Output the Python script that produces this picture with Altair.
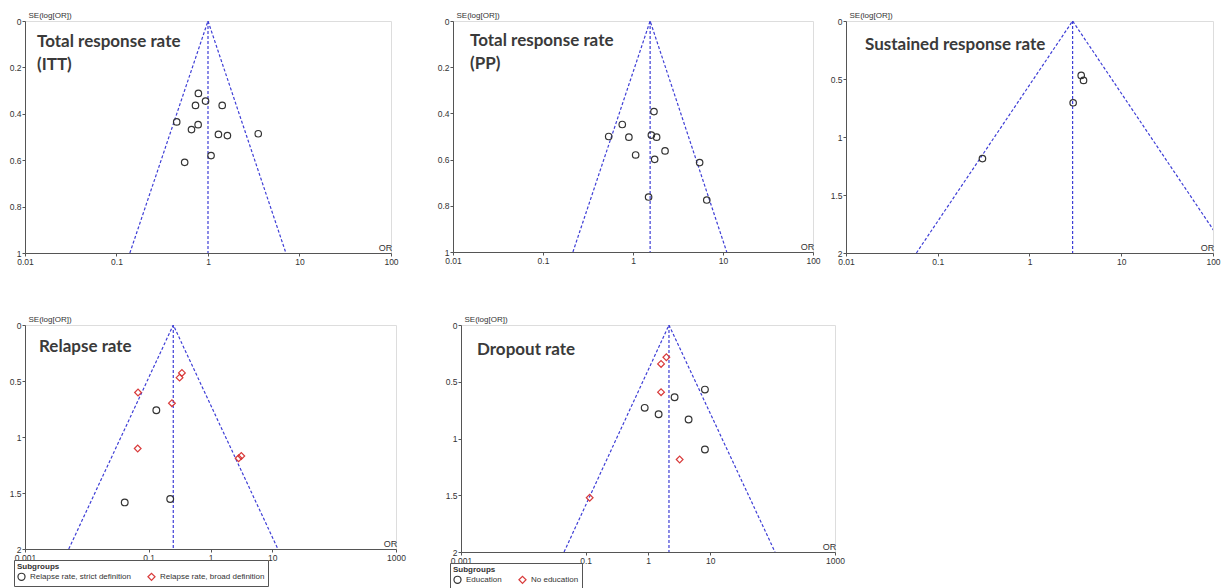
import altair as alt
import pandas as pd

# ---------------- data ----------------
# Total response rate (ITT)
itt_or = [0.785, 0.94, 0.73, 1.43, 0.455, 0.78, 0.66, 1.30, 1.63, 3.54, 1.08, 0.556]
itt_se = [0.312, 0.345, 0.364, 0.364, 0.435, 0.447, 0.468, 0.489, 0.494, 0.486, 0.580, 0.609]

# Total response rate (PP)
pp_or = [1.71, 0.76, 0.537, 0.90, 1.60, 1.83, 1.07, 2.27, 1.74, 5.5, 1.49, 6.6]
pp_se = [0.392, 0.448, 0.500, 0.503, 0.494, 0.503, 0.580, 0.5625, 0.599, 0.613, 0.762, 0.775]

# Sustained response rate
sus_or = [3.66, 3.88, 2.99, 0.307]
sus_se = [0.469, 0.512, 0.705, 1.186]

# Relapse rate
rel_strict_or = [0.133, 0.041, 0.223]
rel_strict_se = [0.761, 1.584, 1.554]
rel_broad_or = [0.345, 0.316, 0.0673, 0.238, 0.0665, 2.85, 3.15]
rel_broad_se = [0.428, 0.470, 0.603, 0.698, 1.103, 1.19, 1.17]

# Dropout rate
drop_edu_or = [8.19, 2.67, 0.885, 1.48, 4.48, 8.19]
drop_edu_se = [0.569, 0.636, 0.730, 0.786, 0.833, 1.097]
drop_noedu_or = [1.97, 1.62, 1.62, 3.22, 0.116]
drop_noedu_se = [0.284, 0.343, 0.592, 1.185, 1.522]

# funnel: pooled OR, lower / upper OR at the bottom of the funnel, max SE
funnel_itt = [1.0, 0.14, 7.1, 1.0]
funnel_pp = [1.55, 0.215, 11.0, 1.0]
funnel_sus = [2.95, 0.0585, 149.0, 2.0]
funnel_rel = [0.25, 0.0051, 12.3, 2.0]
funnel_drop = [2.17, 0.045, 109.0, 2.0]

ticks_a = [0.01, 0.1, 1, 10, 100]
ticks_b = [0.001, 0.1, 1, 10, 1000]
se_ticks_1 = [0, 0.2, 0.4, 0.6, 0.8, 1]
se_ticks_2 = [0, 0.5, 1, 1.5, 2]

rel_groups = ["Relapse rate, strict definition", "Relapse rate, broad definition"]
drop_groups = ["Education", "No education"]

# ---------------- styling ----------------
BLUE = "#3e3ed6"
DARK = "#333333"
RED = "#d93b3b"
AXC = "#555555"
FONT = "Liberation Sans"
LABFONT = "Lato"


def funnel_df(f):
    pooled, lo, hi, semax = f
    return pd.DataFrame({
        "OR": [lo, pooled, hi, pooled, pooled],
        "SE": [semax, 0, semax, 0, semax],
        "seg": ["edge", "edge", "edge", "mid", "mid"],
        "ord": [0, 1, 2, 0, 1],
    })


def panel(pts, f, xdom, xticks, yticks, w, h, label, lx, ly,
          groups=None, legend=None):
    semax = f[3]
    xaxis = alt.Axis(values=xticks, format="~g", title="OR", titleX=w - 6, titleY=-1,
                     titleAlign="center", titleBaseline="bottom", titleFontWeight="normal",
                     titleFontSize=9, titleFont=FONT, titleColor=DARK,
                     labelFont=FONT, labelFontSize=8.5, labelColor=DARK, labelFlush=False,
                     labelOverlap=False, tickSize=3, tickColor=AXC, domainColor=AXC,
                     grid=False, labelPadding=1)
    yaxis = alt.Axis(values=yticks, format="~g", title="SE(log[OR])", titleAngle=0,
                     titleX=3, titleY=-2, titleAlign="left", titleBaseline="bottom",
                     titleFontWeight="normal", titleFontSize=8, titleFont=FONT, titleColor=DARK,
                     labelFont=FONT, labelFontSize=8.5, labelColor=DARK, labelFlush=False,
                     labelOverlap=False, tickSize=3, tickColor=AXC, domainColor=AXC,
                     grid=False, labelPadding=1)
    xs = alt.Scale(type="log", domain=xdom)
    ys = alt.Scale(domain=[0, semax], reverse=True)
    fun = alt.Chart(funnel_df(f)).mark_line(
        color=BLUE, strokeDash=[3, 2], strokeWidth=1.2, clip=True
    ).encode(
        x=alt.X("OR:Q", scale=xs, axis=xaxis),
        y=alt.Y("SE:Q", scale=ys, axis=yaxis),
        detail="seg:N",
        order="ord:Q",
    )
    if groups is None:
        p = alt.Chart(pts).mark_point(shape="circle", filled=False, size=42,
                                      strokeWidth=1.2, color=DARK, opacity=1).encode(
            x="OR:Q", y="SE:Q")
    else:
        p = alt.Chart(pts).mark_point(filled=False, size=45, strokeWidth=1.2, opacity=1).encode(
            x="OR:Q", y="SE:Q",
            color=alt.Color("group:N", scale=alt.Scale(domain=groups, range=[DARK, RED]),
                            legend=legend),
            shape=alt.Shape("group:N", scale=alt.Scale(domain=groups, range=["circle", "diamond"]),
                            legend=legend),
        )
    txt = alt.Chart(pd.DataFrame({"label": [label]})).mark_text(
        align="left", baseline="alphabetic", font=LABFONT, fontSize=17, fontWeight="bold",
        color="#3a3a3a", lineBreak="\n", lineHeight=23
    ).encode(x=alt.value(lx), y=alt.value(ly), text="label:N")
    return alt.layer(fun, p, txt).properties(width=w, height=h)


def make_legend(h):
    return alt.Legend(title="Subgroups", orient="none", legendX=-11, legendY=h + 11,
                      direction="horizontal", strokeColor=AXC, padding=3,
                      titleFont=FONT, titleFontSize=8, titleFontWeight="bold", titleColor=DARK,
                      labelFont=FONT, labelFontSize=8, labelColor=DARK,
                      symbolSize=50, symbolStrokeWidth=1.2, columnPadding=14,
                      titlePadding=1, symbolType="circle")


df_itt = pd.DataFrame({"OR": itt_or, "SE": itt_se})
df_pp = pd.DataFrame({"OR": pp_or, "SE": pp_se})
df_sus = pd.DataFrame({"OR": sus_or, "SE": sus_se})
df_rel = pd.DataFrame({
    "OR": rel_strict_or + rel_broad_or,
    "SE": rel_strict_se + rel_broad_se,
    "group": [rel_groups[0]] * len(rel_strict_or) + [rel_groups[1]] * len(rel_broad_or),
})
df_drop = pd.DataFrame({
    "OR": drop_edu_or + drop_noedu_or,
    "SE": drop_edu_se + drop_noedu_se,
    "group": [drop_groups[0]] * len(drop_edu_or) + [drop_groups[1]] * len(drop_noedu_or),
})

p1 = panel(df_itt, funnel_itt, [0.01, 100], ticks_a, se_ticks_1, 366, 232,
           "Total response rate\n(ITT)", 12, 26)
p2 = panel(df_pp, funnel_pp, [0.01, 100], ticks_a, se_ticks_1, 360, 231,
           "Total response rate\n(PP)", 17, 25)
p3 = panel(df_sus, funnel_sus, [0.01, 100], ticks_a, se_ticks_2, 367, 232,
           "Sustained response rate", 19, 29)
p4 = panel(df_rel, funnel_rel, [0.001, 1000], ticks_b, se_ticks_2, 371, 224,
           "Relapse rate", 14, 27, groups=rel_groups, legend=make_legend(224))
p5 = panel(df_drop, funnel_drop, [0.001, 1000], ticks_b, se_ticks_2, 374, 227,
           "Dropout rate", 16, 30, groups=drop_groups, legend=make_legend(227))

row1 = alt.hconcat(p1, alt.hconcat(p2, p3, spacing=8), spacing=37).resolve_scale(
    x="independent", y="independent", color="independent", shape="independent")
row2 = alt.hconcat(p4, p5, spacing=38).resolve_scale(
    x="independent", y="independent", color="independent", shape="independent")

chart = alt.vconcat(row1, row2, spacing=48).resolve_scale(
    x="independent", y="independent", color="independent", shape="independent"
).properties(padding={"top": 2, "left": 0, "right": 0, "bottom": 0}).configure_view(
    stroke=None).configure(background="white")

chart.save("out.html", embed_options={"renderer": "svg", "actions": False})
